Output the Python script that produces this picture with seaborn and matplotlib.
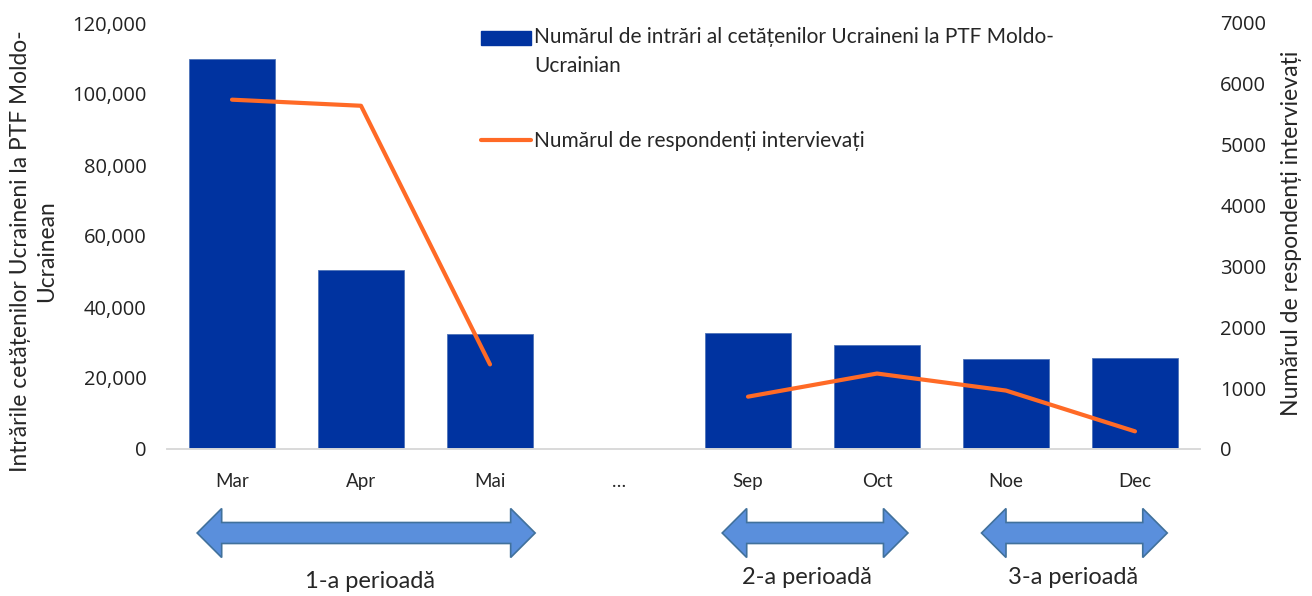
import pandas as pd
import matplotlib.pyplot as plt
import seaborn as sns
from matplotlib.patches import Polygon, Patch, Rectangle
from matplotlib.lines import Line2D
from matplotlib.legend_handler import HandlerPatch
from matplotlib.ticker import FuncFormatter, MultipleLocator
from matplotlib.transforms import blended_transform_factory

# === Data ===
categories = ["Mar", "Apr", "Mai", "…", "Sep", "Oct", "Noe", "Dec"]
months = ["Mar", "Apr", "Mai", "Sep", "Oct", "Noe", "Dec"]
entries = [110000, 50500, 32500, 32800, 29300, 25400, 25600]
respondents = [5740, 5640, 1390, 860, 1240, 960, 290]
segment = [1, 1, 1, 2, 2, 2, 2]  # line is broken at "…"

period_labels = ["1-a perioadă", "2-a perioadă", "3-a perioadă"]
period_spans = [(-0.27, 2.35), (3.80, 5.24), (5.81, 7.25)]  # in category units
period_label_x = [1.07, 4.46, 6.52]

bar_label = "Numărul de intrări al cetățenilor Ucraineni la PTF Moldo-\nUcrainian"
line_label = "Numărul de respondenți intervievați"
left_label = "Intrările cetățenilor Ucraineni la PTF Moldo-\nUcrainean"

bar_color = "#0033A0"
line_color = "#FF6A26"
arrow_fill = "#5A8FDC"
arrow_edge = "#41719C"

df = pd.DataFrame({
    "month": months,
    "entries": entries,
    "respondents": respondents,
    "pos": [categories.index(m) for m in months],
    "segment": segment,
})

sns.set_style("white")
plt.rcParams["font.family"] = ["Lato", "DejaVu Sans"]

fig = plt.figure(figsize=(13.12, 5.96), dpi=100)
ax = fig.add_axes([167.5 / 1312, 147 / 596, 1032 / 1312, 426 / 596])

sns.barplot(data=df, x="month", y="entries", order=categories, color=bar_color,
            saturation=1, width=0.66, edgecolor="#4F73B8", linewidth=0.6, ax=ax)
ax.set_xlim(-0.5, len(categories) - 0.5)
ax.set_ylim(0, 120000)
ax.yaxis.set_major_locator(MultipleLocator(20000))
ax.yaxis.set_major_formatter(FuncFormatter(lambda v, p: f"{int(v):,}"))

ax2 = ax.twinx()
sns.lineplot(data=df, x="pos", y="respondents", units="segment", estimator=None,
             color=line_color, linewidth=3, solid_capstyle="round", ax=ax2)
ax2.set_ylim(0, 7000)
ax2.yaxis.set_major_locator(MultipleLocator(1000))
ax2.set_xlim(-0.5, len(categories) - 0.5)

for a in (ax, ax2):
    for side in ("left", "right", "top"):
        a.spines[side].set_visible(False)
    a.spines["bottom"].set_color("#D9D9D9")
    a.spines["bottom"].set_linewidth(1.2)
    a.set_xlabel("")
    a.tick_params(length=0)

ax.tick_params(axis="y", pad=15)
ax2.tick_params(axis="y", pad=15)
ax.tick_params(axis="x", pad=17, labelsize=13.5)
for t in ax.get_yticklabels() + ax2.get_yticklabels():
    t.set_fontfamily(["Open Sans", "DejaVu Sans"])
    t.set_fontsize(14.5)
    t.set_color("#222222")

ax.set_ylabel(left_label, fontsize=16.4, linespacing=1.3, va="center")
ax.yaxis.set_label_coords(-0.130, 0.465)
ax2.set_ylabel(line_label, fontsize=16.6)
ax2.yaxis.set_label_position("right")
ax2.yaxis.label.set_va("center")
ax2.yaxis.set_label_coords(1.0896, 0.505)


# legend: the bar swatch sits next to the first line of its two-line label
def raised_patch(legend, orig_handle, xdescent, ydescent, width, height, fontsize):
    return Rectangle((-xdescent, -ydescent + 10.4), width, height)


handles = [Patch(color=bar_color), Line2D([], [], color=line_color, lw=3)]
leg = fig.legend(handles, [bar_label, line_label], loc="upper left",
                 bbox_to_anchor=(481 / 1312, 1 - 27 / 596), frameon=False,
                 fontsize=15, handlelength=2.4, handletextpad=0.15,
                 labelspacing=2.64, borderpad=0, borderaxespad=0,
                 handler_map={Patch: HandlerPatch(patch_func=raised_patch)})
for t in leg.get_texts():
    t.set_linespacing(1.58)

# period arrows below the axis
trans = blended_transform_factory(ax.transData, fig.transFigure)
yc = 1 - 533 / 596
shaft = 10.5 / 596
head = 24.5 / 596
hl = 0.19
for (x0, x1), lx, lab in zip(period_spans, period_label_x, period_labels):
    verts = [(x0, yc), (x0 + hl, yc + head), (x0 + hl, yc + shaft),
             (x1 - hl, yc + shaft), (x1 - hl, yc + head), (x1, yc),
             (x1 - hl, yc - head), (x1 - hl, yc - shaft), (x0 + hl, yc - shaft),
             (x0 + hl, yc - head)]
    fig.patches.append(Polygon(verts, closed=True, transform=trans,
                               facecolor=arrow_fill, edgecolor=arrow_edge, lw=1.2))
    ly = 1 - (582 if lab.startswith("1") else 578) / 596
    fig.text(lx, ly, lab, transform=trans, ha="center", va="center", fontsize=17)

fig.savefig("out.png", dpi=100)
